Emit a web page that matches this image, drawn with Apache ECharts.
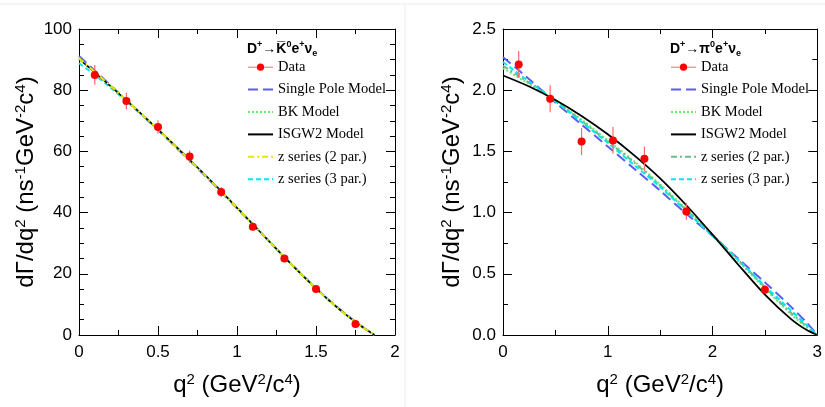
<!DOCTYPE html>
<html>
<head>
<meta charset="utf-8">
<script src="https://cdn.jsdelivr.net/npm/echarts@6/dist/echarts.min.js"></script>
<style>
  html, body { margin: 0; padding: 0; background: #fff; }
  #chart { width: 825px; height: 407px; }
</style>
</head>
<body>
<div id="chart"></div>
<script>
// ---- D+ -> K0bar e+ nu (left panel) ----
var kDataQ = [0.1, 0.3, 0.5, 0.7, 0.9, 1.1, 1.3, 1.5, 1.75]
var kDataRate = [85.0, 76.5, 68.0, 58.3, 46.7, 35.4, 25.0, 15.0, 3.6]
var kDataErr = [3.2, 2.7, 2.2, 2.0, 1.7, 1.2, 1.0, 0.8, 0.5]

var kCurveQ = [0, 0.1, 0.2, 0.3, 0.4, 0.5, 0.6, 0.7, 0.8, 0.9, 1.0, 1.1, 1.2, 1.3, 1.4, 1.5, 1.6, 1.7, 1.8, 1.87]
var kPole  = [91.2, 86.4, 81.6, 76.8, 71.9, 67.0, 62.0, 57.0, 51.9, 46.7, 41.4, 36.1, 30.8, 25.5, 20.3, 15.3, 10.6, 6.3, 2.4, 0]
var kBK    = [90.6, 86.0, 81.4, 76.7, 72.0, 67.1, 62.2, 57.2, 52.1, 46.9, 41.5, 36.2, 30.8, 25.4, 20.2, 15.2, 10.5, 6.2, 2.4, 0]
var kIsgw2 = [90.2, 85.8, 81.3, 76.7, 72.0, 67.2, 62.3, 57.3, 52.2, 47.0, 41.6, 36.2, 30.8, 25.4, 20.2, 15.2, 10.5, 6.2, 2.4, 0]
var kZ2    = [90.4, 85.9, 81.4, 76.7, 72.0, 67.2, 62.2, 57.2, 52.1, 46.9, 41.6, 36.2, 30.8, 25.4, 20.2, 15.2, 10.5, 6.2, 2.4, 0]
var kZ3    = [88.8, 85.0, 80.8, 76.4, 71.8, 67.1, 62.2, 57.3, 52.2, 47.0, 41.7, 36.3, 30.9, 25.5, 20.3, 15.3, 10.6, 6.3, 2.5, 0]

// ---- D+ -> pi0 e+ nu (right panel) ----
var pDataQ = [0.15, 0.45, 0.75, 1.05, 1.35, 1.75, 2.5]
var pDataRate = [2.21, 1.93, 1.58, 1.59, 1.44, 1.01, 0.37]
var pDataErr = [0.11, 0.11, 0.11, 0.11, 0.10, 0.07, 0.02]

var pCurveQ = [0, 0.25, 0.5, 0.75, 1.0, 1.25, 1.5, 1.75, 2.0, 2.25, 2.5, 2.75, 2.9, 3.0]
var pPole  = [2.27, 2.09, 1.90, 1.72, 1.54, 1.36, 1.18, 0.99, 0.81, 0.62, 0.43, 0.23, 0.10, 0]
var pBK    = [2.18, 2.05, 1.91, 1.76, 1.59, 1.42, 1.23, 1.03, 0.82, 0.60, 0.38, 0.17, 0.06, 0]
var pIsgw2 = [2.12, 2.03, 1.92, 1.79, 1.64, 1.47, 1.28, 1.06, 0.82, 0.57, 0.33, 0.13, 0.04, 0]
var pZ2    = [2.20, 2.06, 1.91, 1.75, 1.58, 1.41, 1.22, 1.02, 0.82, 0.61, 0.39, 0.18, 0.07, 0]
var pZ3    = [2.23, 2.07, 1.91, 1.74, 1.57, 1.39, 1.21, 1.01, 0.81, 0.61, 0.40, 0.20, 0.08, 0]

var SANS = 'Liberation Sans'
var SERIF = 'Liberation Serif'

function zip(xs, ys) {
  return xs.map(function (x, i) { return [x, ys[i]] })
}

var nameRich = {
  sup: { fontFamily: SANS, fontSize: 15, color: '#000', verticalAlign: 'top', lineHeight: 15 }
}

function xAxisCfg(grid, max, interval, minorSplit, bottom) {
  return {
    type: 'value', gridIndex: grid, min: 0, max: max, interval: interval,
    position: bottom ? 'bottom' : 'top',
    name: bottom ? 'q{sup|2} (GeV{sup|2}/c{sup|4})' : '',
    nameLocation: 'middle', nameGap: 37,
    nameTextStyle: { fontFamily: SANS, fontSize: 24, color: '#000', lineHeight: 26, rich: nameRich },
    axisLine: { show: true, onZero: false, lineStyle: { color: '#000', width: 1 } },
    axisTick: { show: true, inside: true, length: 9, lineStyle: { color: '#000' } },
    minorTick: { show: true, splitNumber: minorSplit, length: 5, lineStyle: { color: '#000' } },
    splitLine: { show: false },
    axisLabel: { show: bottom, color: '#000', fontFamily: SANS, fontSize: 17, margin: 9 }
  }
}

function yAxisCfg(grid, max, interval, minorSplit, left, gap, fmt) {
  return {
    type: 'value', gridIndex: grid, min: 0, max: max, interval: interval,
    position: left ? 'left' : 'right',
    name: left ? 'dΓ/dq{sup|2} (ns{sup|-1}GeV{sup|-2}c{sup|4})' : '',
    nameLocation: 'middle', nameGap: gap, nameRotate: 90,
    nameTextStyle: { fontFamily: SANS, fontSize: 24, color: '#000', lineHeight: 26, rich: nameRich },
    axisLine: { show: true, onZero: false, lineStyle: { color: '#000', width: 1 } },
    axisTick: { show: true, inside: true, length: 9, lineStyle: { color: '#000' } },
    minorTick: { show: true, splitNumber: minorSplit, length: 5, lineStyle: { color: '#000' } },
    splitLine: { show: false },
    axisLabel: { show: left, color: '#000', fontFamily: SANS, fontSize: 17, margin: 7, formatter: fmt }
  }
}

function curve(name, x, y, xi, yi, color, type, width) {
  return {
    name: name, type: 'line', xAxisIndex: xi, yAxisIndex: yi,
    data: zip(x, y), smooth: 0.3, symbol: 'none', z: 2,
    lineStyle: { color: color, type: type, width: width },
    itemStyle: { color: color },
    animation: false
  }
}

function errBars(q, rate, err, xi, yi) {
  return {
    type: 'custom', xAxisIndex: xi, yAxisIndex: yi, z: 3,
    data: q.map(function (x, i) { return [x, rate[i] - err[i], rate[i] + err[i]] }),
    encode: { x: 0, y: [1, 2] },
    renderItem: function (params, api) {
      var lo = api.coord([api.value(0), api.value(1)])
      var hi = api.coord([api.value(0), api.value(2)])
      return {
        type: 'line',
        shape: { x1: lo[0], y1: lo[1], x2: hi[0], y2: hi[1] },
        style: { stroke: '#ff6a6a', lineWidth: 1.2 }
      }
    },
    animation: false
  }
}

function dataSeries(q, rate, xi, yi) {
  return {
    name: 'Data', type: 'line', xAxisIndex: xi, yAxisIndex: yi, z: 4,
    data: zip(q, rate), symbol: 'circle', symbolSize: 8,
    lineStyle: { opacity: 0, color: '#ff8080' },
    itemStyle: { color: '#ff0000' },
    animation: false
  }
}

function legendCfg(left, z2color) {
  var noDot = { opacity: 0 }
  return {
    orient: 'vertical', left: left, top: 59, padding: 0, selectedMode: false,
    itemWidth: 25, itemHeight: 9, itemGap: 6,
    textStyle: { fontFamily: SERIF, fontSize: 14.5, color: '#000', lineHeight: 16.4 },
    data: [
      { name: 'Data', lineStyle: { opacity: 1, color: '#ff8080', width: 1.2 } },
      { name: 'Single Pole Model', itemStyle: noDot },
      { name: 'BK Model', itemStyle: noDot },
      { name: 'ISGW2 Model', itemStyle: noDot },
      { name: 'z series (2 par.)', lineStyle: { color: z2color }, itemStyle: noDot },
      { name: 'z series (3 par.)', itemStyle: noDot }
    ]
  }
}

var titleRich = {
  b: { fontFamily: SANS, fontSize: 14, fontWeight: 'bold', color: '#000', lineHeight: 18 },
  sup: { fontFamily: SANS, fontSize: 9, fontWeight: 'bold', color: '#000', verticalAlign: 'top', lineHeight: 9 },
  sub: { fontFamily: SANS, fontSize: 9, fontWeight: 'bold', color: '#000', verticalAlign: 'bottom', lineHeight: 9 }
}

var chart = echarts.init(document.getElementById('chart'))
chart.setOption({
  backgroundColor: '#fff',
  animation: false,
  title: [
    { left: 242, top: 35, text: '{b|D}{sup|+}{b|→K\u0305}{sup|0}{b|e}{sup|+}{b|ν}{sub|e}', textStyle: { rich: titleRich } },
    { left: 665, top: 35, text: '{b|D}{sup|+}{b|→π}{sup|0}{b|e}{sup|+}{b|ν}{sub|e}', textStyle: { rich: titleRich } }
  ],
  grid: [
    { left: 79, right: 430, top: 29, bottom: 72 },
    { left: 503, right: 7, top: 29, bottom: 72 }
  ],
  legend: [legendCfg(247, '#e8e800'), legendCfg(670, '#6dbb8c')],
  xAxis: [
    xAxisCfg(0, 2, 0.5, 2, true),
    xAxisCfg(0, 2, 0.5, 2, false),
    xAxisCfg(1, 3, 1, 2, true),
    xAxisCfg(1, 3, 1, 2, false)
  ],
  yAxis: [
    yAxisCfg(0, 100, 20, 4, true, 34, function (v) { return v }),
    yAxisCfg(0, 100, 20, 4, false, 34),
    yAxisCfg(1, 2.5, 0.5, 2, true, 38, function (v) { return v.toFixed(1) }),
    yAxisCfg(1, 2.5, 0.5, 2, false, 38)
  ],
  series: [
    curve('z series (3 par.)', kCurveQ, kZ3, 0, 0, '#00e8f0', [5, 3], 2),
    curve('Single Pole Model', kCurveQ, kPole, 0, 0, '#5c5cee', [10, 5], 2),
    curve('BK Model', kCurveQ, kBK, 0, 0, '#66ee66', [2, 2], 2),
    curve('ISGW2 Model', kCurveQ, kIsgw2, 0, 0, '#000000', 'solid', 1.5),
    curve('z series (2 par.)', kCurveQ, kZ2, 0, 0, '#e8e800', [6, 3, 2, 3], 2),
    errBars(kDataQ, kDataRate, kDataErr, 0, 0),
    dataSeries(kDataQ, kDataRate, 0, 0),

    curve('Single Pole Model', pCurveQ, pPole, 2, 2, '#5c5cee', [10, 5], 2),
    curve('BK Model', pCurveQ, pBK, 2, 2, '#66ee66', [2, 2], 2),
    curve('z series (2 par.)', pCurveQ, pZ2, 2, 2, '#6dbb8c', [6, 3, 2, 3], 2),
    curve('z series (3 par.)', pCurveQ, pZ3, 2, 2, '#00e8f0', [5, 3], 2),
    curve('ISGW2 Model', pCurveQ, pIsgw2, 2, 2, '#000000', 'solid', 1.8),
    errBars(pDataQ, pDataRate, pDataErr, 2, 2),
    dataSeries(pDataQ, pDataRate, 2, 2)
  ],
  graphic: [
    { type: 'line', shape: { x1: 0, y1: 4, x2: 825, y2: 4 }, style: { stroke: '#ececec', lineWidth: 1 }, silent: true },
    { type: 'line', shape: { x1: 405, y1: 4, x2: 405, y2: 407 }, style: { stroke: '#ececec', lineWidth: 1 }, silent: true }
  ]
})
</script>
</body>
</html>
